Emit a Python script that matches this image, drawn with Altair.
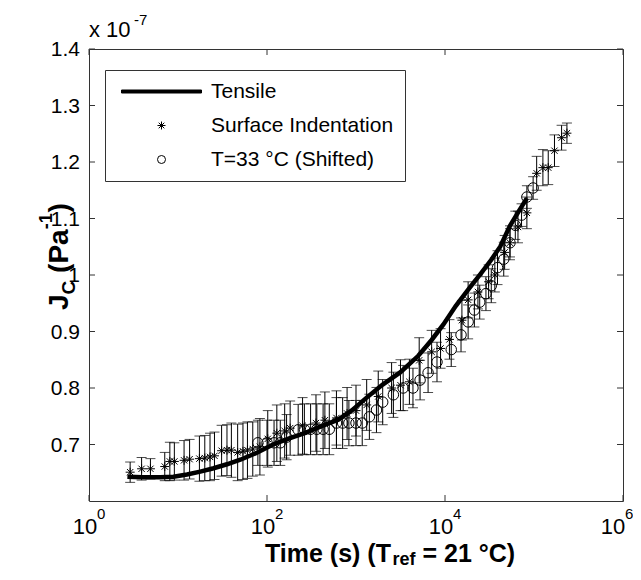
import altair as alt
import pandas as pd

# ---------------- data ----------------
SERIES = ["Tensile", "Surface Indentation", "T=33 °C (Shifted)"]

# Tensile (thick line)
tensile_t = [2.7, 4.0, 6.3, 8.9, 12.6, 17.8, 25.1, 35.5, 50.1, 75.9, 117, 178, 275, 417,
             631, 891, 1318, 1995, 3162, 5012, 7079, 9550, 13183, 19055, 25119, 33113,
             41687, 53703, 67608, 83176]
tensile_j = [0.643, 0.642, 0.642, 0.643, 0.647, 0.652, 0.658, 0.665, 0.673, 0.685, 0.700,
             0.711, 0.721, 0.733, 0.744, 0.760, 0.783, 0.806, 0.828, 0.857, 0.885, 0.912,
             0.945, 0.978, 1.002, 1.027, 1.050, 1.087, 1.113, 1.136]

# Surface indentation (asterisks with error bars)
ind_t = [2.9, 3.9, 4.9, 7.1, 8.1, 9.1, 11.7, 13.5, 17.4, 20, 22.9, 25.7, 30.9, 35.5, 39.8,
         46.8, 53.7, 60.3, 69.2, 83.2, 102, 129, 158, 182, 251, 355, 447, 603, 794, 1000,
         1318, 1778, 2512, 3162, 3981, 5129, 7079, 8913, 11220, 15488, 18197, 23442, 30903,
         36308, 46774, 53703, 66069, 83176, 107152, 125893, 144544, 169824, 204174, 234423]
ind_j = [0.651, 0.657, 0.657, 0.661, 0.670, 0.670, 0.672, 0.674, 0.675, 0.676, 0.678, 0.680,
         0.689, 0.690, 0.690, 0.686, 0.688, 0.690, 0.692, 0.696, 0.710, 0.720, 0.724, 0.729,
         0.733, 0.738, 0.743, 0.747, 0.755, 0.760, 0.770, 0.785, 0.800, 0.805, 0.811, 0.849,
         0.864, 0.870, 0.886, 0.920, 0.956, 0.970, 0.988, 1.000, 1.040, 1.057, 1.085, 1.110,
         1.180, 1.190, 1.190, 1.220, 1.243, 1.251]
ind_err = [0.018, 0.020, 0.018, 0.025, 0.034, 0.033, 0.035, 0.035, 0.040, 0.040, 0.042, 0.042,
           0.045, 0.045, 0.048, 0.050, 0.050, 0.050, 0.048, 0.050, 0.050, 0.050, 0.048, 0.048,
           0.050, 0.050, 0.050, 0.048, 0.046, 0.045, 0.045, 0.045, 0.045, 0.045, 0.040, 0.040,
           0.038, 0.035, 0.035, 0.035, 0.032, 0.030, 0.030, 0.030, 0.030, 0.030, 0.028, 0.028,
           0.030, 0.032, 0.030, 0.028, 0.022, 0.018]

# T = 33 °C shifted (open circles with error bars)
sh_t = [79, 100, 120, 141, 166, 224, 263, 309, 363, 427, 501, 603, 708, 832, 1000, 1175,
        1413, 1698, 1995, 2630, 3388, 4365, 5248, 6457, 8128, 11749, 15136, 18197, 21380,
        24547, 28840, 33113, 38905, 45709, 53703, 61660, 72444, 83176, 97724]
sh_j = [0.703, 0.703, 0.703, 0.703, 0.713, 0.726, 0.727, 0.727, 0.727, 0.727, 0.727, 0.738,
        0.738, 0.738, 0.738, 0.738, 0.749, 0.761, 0.775, 0.788, 0.800, 0.800, 0.814, 0.827,
        0.846, 0.868, 0.894, 0.917, 0.938, 0.952, 0.967, 0.981, 1.013, 1.028, 1.057, 1.088,
        1.106, 1.138, 1.154]
sh_err = [0.040, 0.040, 0.040, 0.040, 0.040, 0.045, 0.045, 0.045, 0.045, 0.045, 0.045, 0.045,
          0.045, 0.040, 0.040, 0.040, 0.040, 0.040, 0.040, 0.040, 0.040, 0.035, 0.035, 0.035,
          0.035, 0.030, 0.030, 0.030, 0.030, 0.030, 0.030, 0.030, 0.030, 0.030, 0.025, 0.025,
          0.020, 0.020, 0.020]

# axis ticks / labels
x_ticks = [1, 100, 10000, 1000000]
x_tick_base = ["10", "10", "10", "10"]
x_tick_exp = ["0", "2", "4", "6"]
y_ticks = [0.7, 0.8, 0.9, 1.0, 1.1, 1.2, 1.3, 1.4]
y_tick_labels = ["0.7", "0.8", "0.9", "1", "1.1", "1.2", "1.3", "1.4"]

# ---------------- tables ----------------
tensile_df = pd.DataFrame({"t": tensile_t, "j": tensile_j, "series": SERIES[0]})
ind_df = pd.DataFrame({"t": ind_t, "j": ind_j, "err": ind_err, "series": SERIES[1]})
sh_df = pd.DataFrame({"t": sh_t, "j": sh_j, "err": sh_err, "series": SERIES[2]})
err_df = pd.concat([ind_df, sh_df], ignore_index=True)
err_df["lo"] = err_df["j"] - err_df["err"]
err_df["hi"] = err_df["j"] + err_df["err"]
xt_df = pd.DataFrame({"t": x_ticks, "base": x_tick_base, "exp": x_tick_exp})
yt_df = pd.DataFrame({"v": y_ticks, "label": y_tick_labels})
one = pd.DataFrame({"a": [0]})

W, H = 534, 452
FONT = "Liberation Sans"
AX = "#333333"
ASTER = "M0,-1L0,1M-1,0L1,0M-0.7,-0.7L0.7,0.7M-0.7,0.7L0.7,-0.7"
BAR = "M-10,-0.375L10,-0.375L10,0.375L-10,0.375Z"

xs = alt.Scale(type="log", domain=[1, 1000000])
ys = alt.Scale(domain=[0.6, 1.4], nice=False, zero=False)

legend = alt.Legend(title=None, orient="none", legendX=16, legendY=21, symbolSize=64,
                    symbolOffset=35, labelOffset=39, padding=11, rowPadding=12,
                    labelFont=FONT, labelFontSize=21, labelColor="black", labelLimit=400,
                    strokeColor=AX, fillColor="white", symbolStrokeColor="black",
                    symbolStrokeWidth=1)
shape_enc = alt.Shape("series:N", scale=alt.Scale(domain=SERIES, range=[BAR, ASTER, "circle"]),
                      legend=legend)
fill_enc = alt.Fill("series:N", scale=alt.Scale(domain=SERIES,
                                                range=["black", "transparent", "transparent"]),
                    legend=legend)
stroke_enc = alt.Stroke("series:N", scale=alt.Scale(domain=SERIES,
                                                    range=["black", "black", "black"]),
                        legend=legend)

X = alt.X("t:Q", scale=xs, axis=None)

err_rule = alt.Chart(err_df).mark_rule(color="black", strokeWidth=1).encode(
    x=X, y=alt.Y("lo:Q", scale=ys, axis=None), y2="hi:Q")
err_cap_lo = alt.Chart(err_df).mark_tick(color="black", orient="horizontal", size=10,
                                         thickness=1).encode(
    x=X, y=alt.Y("lo:Q", scale=ys, axis=None))
err_cap_hi = alt.Chart(err_df).mark_tick(color="black", orient="horizontal", size=10,
                                         thickness=1).encode(
    x=X, y=alt.Y("hi:Q", scale=ys, axis=None))

line = alt.Chart(tensile_df).mark_line(color="black", strokeWidth=4.5).encode(
    x=X, y=alt.Y("j:Q", scale=ys, axis=None))

stars = alt.Chart(ind_df).mark_point(strokeWidth=1, size=81, opacity=1).encode(
    x=X, y=alt.Y("j:Q", scale=ys, axis=None), shape=shape_enc, fill=fill_enc,
    stroke=stroke_enc)
circles = alt.Chart(sh_df).mark_point(strokeWidth=1, size=110, opacity=1).encode(
    x=X, y=alt.Y("j:Q", scale=ys, axis=None), shape=shape_enc, fill=fill_enc,
    stroke=stroke_enc)

TL = 6
ytick_l = alt.Chart(yt_df).mark_rule(color=AX).encode(
    y=alt.Y("v:Q", scale=ys, axis=None), x=alt.value(0), x2=alt.value(TL))
ytick_r = alt.Chart(yt_df).mark_rule(color=AX).encode(
    y=alt.Y("v:Q", scale=ys, axis=None), x=alt.value(W - TL), x2=alt.value(W))
xtick_b = alt.Chart(xt_df).mark_rule(color=AX).encode(
    x=X, y=alt.value(H - TL), y2=alt.value(H))
xtick_t = alt.Chart(xt_df).mark_rule(color=AX).encode(
    x=X, y=alt.value(0), y2=alt.value(TL))

ylab = alt.Chart(yt_df).mark_text(font=FONT, fontSize=21, color="black", align="right",
                                  baseline="middle", dy=1).encode(
    y=alt.Y("v:Q", scale=ys, axis=None), x=alt.value(-9), text="label:N")


def xlabels(flt, dx_base, dx_exp):
    base = alt.Chart(xt_df).transform_filter(flt).mark_text(
        font=FONT, fontSize=22, color="black", align="center", baseline="alphabetic",
        dx=dx_base).encode(x=X, y=alt.value(H + 33), text="base:N")
    exp = alt.Chart(xt_df).transform_filter(flt).mark_text(
        font=FONT, fontSize=15, color="black", align="left", baseline="alphabetic",
        dx=dx_exp).encode(x=X, y=alt.value(H + 18), text="exp:N")
    return [base, exp]


xlab = xlabels("datum.t < 1000000", -4, 8) + xlabels("datum.t >= 1000000", -10, 2)


def txt(s, x, y, size, bold=False, angle=0):
    return alt.Chart(one).mark_text(font=FONT, fontSize=size, fontWeight="bold" if bold else "normal",
                                    color="black", align="left", baseline="alphabetic",
                                    angle=angle).encode(
        x=alt.value(x), y=alt.value(y), text=alt.value(s))


texts = [
    # x 10^-7 multiplier
    txt("x 10", 0, -12, 22),
    txt("-7", 45, -24, 15),
    # x-axis title
    txt("Time (s) (T", 176, 513, 25, True),
    txt("ref", 303.5, 516, 18, True),
    txt("= 21 °C)", 333.5, 513, 25, True),
    # y-axis title (rotated)
    txt("J", -21, 261, 28, True, 270),
    txt("C", -14, 245.4, 19, True, 270),
    txt("(Pa", -21, 223.9, 28, True, 270),
    txt("-1", -37, 180.3, 18, True, 270),
    txt(")", -21, 163.4, 28, True, 270),
]

chart = alt.layer(
    err_rule, err_cap_lo, err_cap_hi, line, stars, circles,
    ytick_l, ytick_r, xtick_b, xtick_t, ylab, *xlab, *texts
).properties(
    width=W, height=H,
    autosize=alt.AutoSizeParams(type="none"),
    padding={"left": 81, "top": 41, "right": 10, "bottom": 68},
    background="white",
).configure_view(stroke=AX, strokeWidth=1)

chart.save("out.html", embed_options={"renderer": "svg", "actions": False})
